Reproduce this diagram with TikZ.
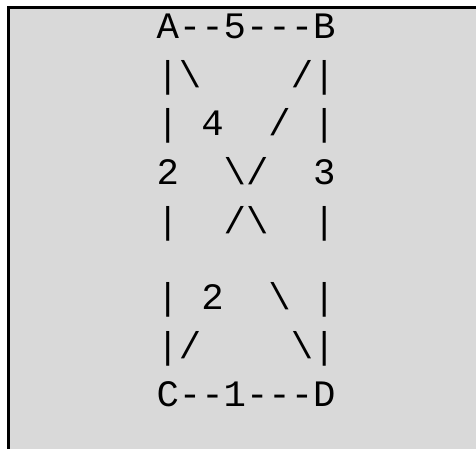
\documentclass[tikz,border=0pt]{standalone}
\usepackage{fontspec}
\setmonofont{Liberation Mono}
\definecolor{panelgrey}{RGB}{217,217,217}
\tikzset{
  asciiline/.style={anchor=base west, inner sep=0pt, outer sep=0pt,
    font=\ttfamily\fontsize{37.3}{40}\selectfont, text=black},
}
\begin{document}
\begin{tikzpicture}[x=1pt,y=-1pt]
\useasboundingbox (0,0) rectangle (476,449);
\fill[white] (0,0) rectangle (476,449);
\fill[panelgrey] (7.3,6) rectangle (476,449);
\fill[black] (7.3,6) rectangle (476,8.7);
\fill[black] (7.3,6) rectangle (10,449);
\node[asciiline] (l1) at (156.5,39)    {A-\kern0pt-5-\kern0pt-\kern0pt-B};
\node[asciiline] (l2) at (156.5,87.5)  {|\textbackslash~~~~/|};
\node[asciiline] (l3) at (156.5,136)   {|~4~~/~|};
\node[asciiline] (l4) at (156.5,184.5) {2~~\textbackslash/~~3};
\node[asciiline] (l5) at (156.5,233)   {|~~/\textbackslash~~|};
\node[asciiline] (l7) at (156.5,309)   {|~2~~\textbackslash~|};
\node[asciiline] (l8) at (156.5,358)   {|/~~~~\textbackslash|};
\node[asciiline] (l9) at (156.5,406.7) {C-\kern0pt-1-\kern0pt-\kern0pt-D};
\end{tikzpicture}
\end{document}
